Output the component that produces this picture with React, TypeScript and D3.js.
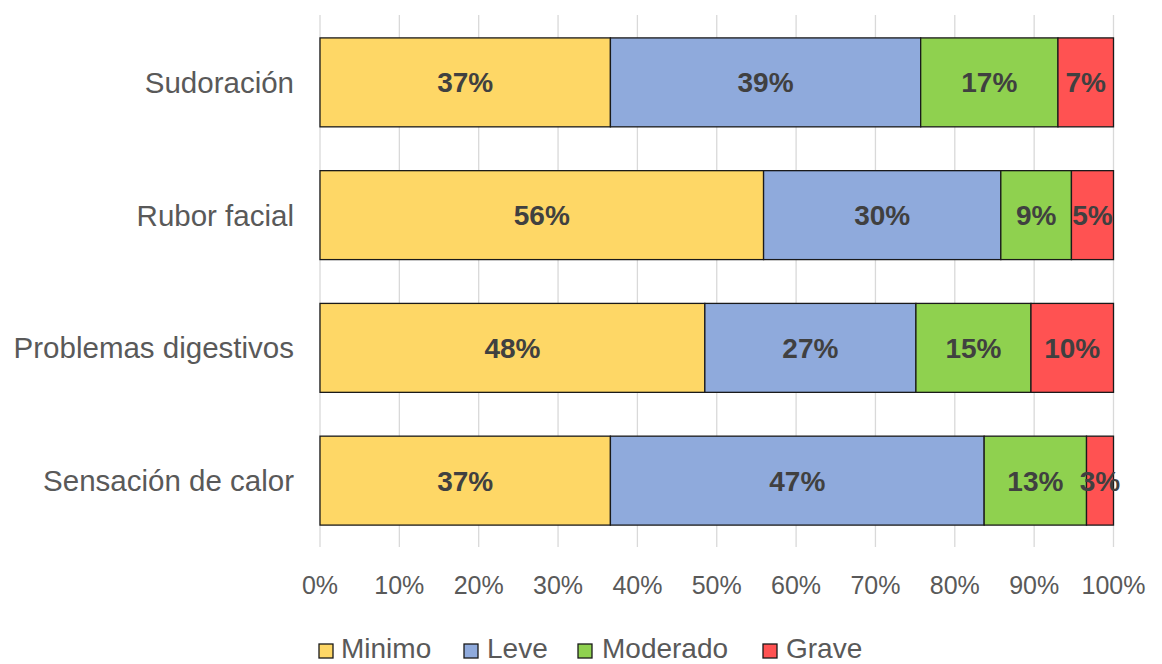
import React from "react";
import * as d3 from "d3";

const categories = ["Sudoración", "Rubor facial", "Problemas digestivos", "Sensación de calor"];
const seriesNames = ["Minimo", "Leve", "Moderado", "Grave"];
const minimo = [36.6, 55.9, 48.5, 36.6];
const leve = [39.1, 29.9, 26.6, 47.1];
const moderado = [17.3, 8.9, 14.5, 12.9];
const grave = [7.0, 5.3, 10.4, 3.4];
const labels = [
  ["37%", "39%", "17%", "7%"],
  ["56%", "30%", "9%", "5%"],
  ["48%", "27%", "15%", "10%"],
  ["37%", "47%", "13%", "3%"],
];
const ticks = [0, 10, 20, 30, 40, 50, 60, 70, 80, 90, 100];
const colors = ["#FED766", "#8FAADC", "#8FD14F", "#FF5252"];

const W = 1162;
const H = 664;
const FONT = "'Liberation Sans', Arial, sans-serif";

export default function App() {
  const x = d3.scaleLinear().domain([0, 100]).range([320, 1113.5]);
  const y = d3
    .scaleBand<string>()
    .domain(categories)
    .range([16, 547])
    .paddingInner(0.33)
    .paddingOuter(0.165);

  const rows = categories.map((c, i) => ({
    cat: c,
    Minimo: minimo[i],
    Leve: leve[i],
    Moderado: moderado[i],
    Grave: grave[i],
  }));
  const stack = d3.stack<any>().keys(seriesNames)(rows);

  const legendItems = [
    { sq: 319, tx: 341 },
    { sq: 464, tx: 487 },
    { sq: 578, tx: 602 },
    { sq: 763, tx: 786 },
  ];

  return (
    <svg
      width={W}
      height={H}
      style={{ position: "absolute", left: 0, top: 0, background: "#fff" }}
      fontFamily={FONT}
    >
      <rect x={0} y={0} width={W} height={H} fill="#fff" />
      {ticks.map((t) => (
        <line
          key={"g" + t}
          x1={x(t)}
          x2={x(t)}
          y1={15}
          y2={547}
          stroke="#d9d9d9"
          strokeWidth={1.3}
        />
      ))}
      {stack.map((s, si) =>
        s.map((d, ci) => {
          const y0 = y(categories[ci])!;
          const x0 = x(d[0]);
          const x1 = x(d[1]);
          return (
            <g key={si + "-" + ci}>
              <rect
                x={x0}
                y={y0}
                width={x1 - x0}
                height={y.bandwidth()}
                fill={colors[si]}
                stroke="#1a1a1a"
                strokeWidth={1.3}
              />
            </g>
          );
        })
      )}
      {stack.map((s, si) =>
        s.map((d, ci) => {
          const y0 = y(categories[ci])!;
          const x0 = x(d[0]);
          const x1 = x(d[1]);
          return (
            <text
              key={"l" + si + "-" + ci}
              x={(x0 + x1) / 2}
              y={y0 + y.bandwidth() / 2}
              dy="0.36em"
              textAnchor="middle"
              fontSize={28}
              fontWeight="bold"
              fill="#404040"
            >
              {labels[ci][si]}
            </text>
          );
        })
      )}
      {categories.map((c) => (
        <text
          key={"c" + c}
          x={294}
          y={y(c)! + y.bandwidth() / 2}
          dy="0.36em"
          textAnchor="end"
          fontSize={29.5}
          fill="#595959"
        >
          {c}
        </text>
      ))}
      {ticks.map((t) => (
        <text
          key={"t" + t}
          x={x(t)}
          y={594}
          textAnchor="middle"
          fontSize={25}
          fill="#595959"
        >
          {t + "%"}
        </text>
      ))}
      {seriesNames.map((n, i) => (
        <g key={"lg" + n}>
          <rect
            x={legendItems[i].sq}
            y={644}
            width={14}
            height={14}
            fill={colors[i]}
            stroke="#1a1a1a"
            strokeWidth={1.3}
          />
          <text x={legendItems[i].tx} y={658} fontSize={28} fill="#595959">
            {n}
          </text>
        </g>
      ))}
    </svg>
  );
}
